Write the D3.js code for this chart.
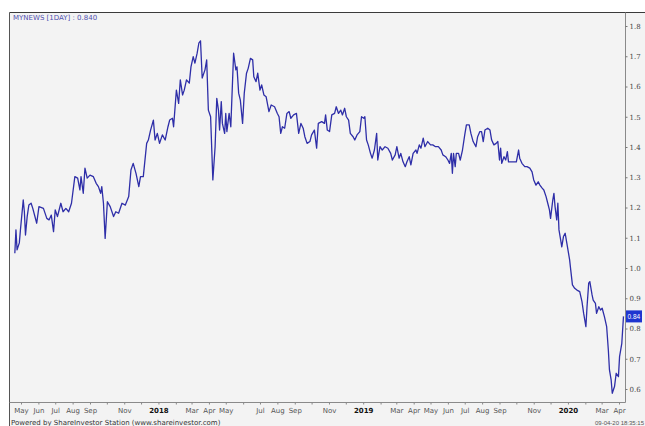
<!DOCTYPE html>
<html>
<head>
<meta charset="utf-8">
<script src="https://cdn.jsdelivr.net/npm/d3@7"></script>
<style>
  html, body { margin: 0; padding: 0; background: #ffffff; }
  svg { display: block; }
  text { font-family: "Liberation Sans", Arial, sans-serif; }
</style>
</head>
<body>
<svg id="chart" width="645" height="426"></svg>
<script>
// ---- data ----
const title = "MYNEWS [1DAY] : 0.840";
const lastValue = 0.84;

const dates = [
  "2017-04-20","2017-04-22","2017-04-24","2017-04-28","2017-04-30","2017-05-05","2017-05-07","2017-05-09","2017-05-12","2017-05-15","2017-05-19","2017-05-22","2017-05-29",
  "2017-06-02","2017-06-10","2017-06-16","2017-06-20","2017-06-24","2017-06-28","2017-07-01","2017-07-05","2017-07-11","2017-07-15","2017-07-20","2017-07-25","2017-07-30",
  "2017-08-05","2017-08-10","2017-08-14","2017-08-16","2017-08-20","2017-08-23","2017-08-27","2017-09-01","2017-09-07","2017-09-12","2017-09-16","2017-09-20","2017-09-22","2017-09-25","2017-09-28",
  "2017-10-02","2017-10-07","2017-10-13","2017-10-17","2017-10-22","2017-10-28","2017-11-03","2017-11-09","2017-11-13","2017-11-17","2017-11-22","2017-11-27","2017-11-30",
  "2017-12-05","2017-12-11","2017-12-14","2017-12-18","2017-12-23","2017-12-26","2017-12-30",
  "2018-01-03","2018-01-08","2018-01-13","2018-01-18","2018-01-21","2018-01-26","2018-01-28",
  "2018-02-02","2018-02-06","2018-02-09","2018-02-13","2018-02-16","2018-02-20","2018-02-25","2018-02-28",
  "2018-03-04","2018-03-07","2018-03-11","2018-03-14","2018-03-17","2018-03-20","2018-03-25","2018-03-28","2018-03-31",
  "2018-04-04","2018-04-08","2018-04-12","2018-04-15","2018-04-18","2018-04-20","2018-04-23","2018-04-25","2018-04-29",
  "2018-05-01","2018-05-03","2018-05-07","2018-05-10","2018-05-15","2018-05-19","2018-05-21","2018-05-24","2018-05-27","2018-05-31",
  "2018-06-03","2018-06-07","2018-06-10","2018-06-14","2018-06-18","2018-06-20","2018-06-24","2018-06-27",
  "2018-07-01","2018-07-04","2018-07-08","2018-07-12","2018-07-17","2018-07-21","2018-07-27",
  "2018-08-01","2018-08-04","2018-08-07","2018-08-10","2018-08-14","2018-08-18","2018-08-22","2018-08-25","2018-08-30",
  "2018-09-04","2018-09-08","2018-09-12","2018-09-16","2018-09-19","2018-09-23","2018-09-28",
  "2018-10-01","2018-10-06","2018-10-10","2018-10-13","2018-10-19","2018-10-24","2018-10-26","2018-10-29",
  "2018-11-02","2018-11-06","2018-11-11","2018-11-14","2018-11-18","2018-11-22","2018-11-25","2018-11-29",
  "2018-12-02","2018-12-06","2018-12-09","2018-12-14","2018-12-17","2018-12-21","2018-12-26","2018-12-29",
  "2019-01-02","2019-01-04","2019-01-07","2019-01-10","2019-01-14","2019-01-17","2019-01-21","2019-01-25","2019-01-27","2019-01-31",
  "2019-02-04","2019-02-09","2019-02-14","2019-02-19","2019-02-22","2019-02-27",
  "2019-03-02","2019-03-06","2019-03-09","2019-03-13","2019-03-17","2019-03-20","2019-03-24","2019-03-27","2019-03-31",
  "2019-04-05","2019-04-07","2019-04-11","2019-04-14","2019-04-18","2019-04-21","2019-04-26",
  "2019-05-01","2019-05-05","2019-05-10","2019-05-15","2019-05-20","2019-05-23","2019-05-28",
  "2019-06-01","2019-06-04","2019-06-07","2019-06-09","2019-06-11","2019-06-14","2019-06-16","2019-06-20","2019-06-23","2019-06-27",
  "2019-07-01","2019-07-04","2019-07-09","2019-07-12","2019-07-16","2019-07-21","2019-07-24","2019-07-28","2019-07-31",
  "2019-08-03","2019-08-06","2019-08-11","2019-08-15","2019-08-18","2019-08-22","2019-08-26","2019-08-29",
  "2019-09-01","2019-09-03","2019-09-05","2019-09-09","2019-09-12","2019-09-15","2019-09-17","2019-09-22","2019-09-27",
  "2019-10-01","2019-10-05","2019-10-07","2019-10-11","2019-10-16","2019-10-20","2019-10-25","2019-10-29",
  "2019-11-01","2019-11-05","2019-11-09","2019-11-12","2019-11-16","2019-11-19","2019-11-23","2019-11-26","2019-11-29",
  "2019-12-01","2019-12-05","2019-12-07","2019-12-09","2019-12-12","2019-12-14","2019-12-16","2019-12-19","2019-12-21","2019-12-24","2019-12-27","2019-12-30",
  "2020-01-02","2020-01-04","2020-01-06","2020-01-09","2020-01-13","2020-01-17","2020-01-22","2020-01-26","2020-01-29",
  "2020-02-02","2020-02-04","2020-02-07","2020-02-09","2020-02-13","2020-02-15","2020-02-19","2020-02-21","2020-02-25","2020-02-28",
  "2020-03-02","2020-03-06","2020-03-10","2020-03-13","2020-03-15","2020-03-18","2020-03-20","2020-03-24","2020-03-27","2020-03-31",
  "2020-04-02","2020-04-06","2020-04-09"
];

const prices = [
  1.049,1.126,1.060,1.083,1.126,1.225,1.186,1.109,1.170,1.208,1.214,1.197,1.148,
  1.203,1.197,1.164,1.159,1.175,1.120,1.192,1.170,1.214,1.186,1.197,1.186,1.214,
  1.302,1.297,1.258,1.302,1.247,1.330,1.297,1.307,1.302,1.280,1.269,1.247,1.269,1.214,1.098,
  1.219,1.203,1.170,1.186,1.181,1.214,1.208,1.236,1.324,1.346,1.313,1.269,1.302,
  1.302,1.412,1.423,1.456,1.489,1.423,1.445,
  1.412,1.440,1.423,1.467,1.489,1.495,1.467,
  1.588,1.544,1.622,1.572,1.588,1.622,1.611,1.665,
  1.699,1.677,1.710,1.743,1.751,1.628,1.655,1.688,1.522,
  1.500,1.291,1.401,1.561,1.522,1.456,1.550,1.478,1.445,
  1.511,1.451,1.511,1.467,1.710,1.655,1.665,1.578,1.555,1.478,
  1.578,1.644,1.660,1.693,1.688,1.632,1.616,1.644,
  1.588,1.605,1.572,1.566,1.517,1.539,1.533,
  1.511,1.500,1.445,1.467,1.462,1.511,1.517,1.495,1.506,
  1.511,1.445,1.478,1.462,1.434,1.412,1.418,
  1.440,1.456,1.396,1.478,1.484,1.478,1.506,1.456,
  1.451,1.506,1.511,1.533,1.511,1.522,1.506,1.528,
  1.500,1.489,1.445,1.434,1.423,1.440,1.451,1.500,
  1.495,1.500,1.423,1.407,1.379,1.363,1.390,1.445,1.357,1.401,
  1.390,1.401,1.396,1.379,1.357,1.374,
  1.401,1.363,1.379,1.351,1.335,1.351,1.368,1.341,1.379,
  1.390,1.379,1.407,1.396,1.429,1.401,1.418,
  1.407,1.407,1.401,1.401,1.390,1.374,1.368,
  1.357,1.346,1.379,1.313,1.379,1.335,1.379,1.379,1.357,1.390,
  1.440,1.473,1.473,1.445,1.418,1.401,1.434,1.451,1.451,
  1.418,1.456,1.462,1.456,1.423,1.407,1.412,1.418,
  1.357,1.396,1.346,1.368,1.357,1.385,1.351,1.351,1.351,
  1.351,1.390,1.363,1.346,1.335,1.335,1.330,1.318,
  1.291,1.274,1.285,1.274,1.264,1.258,1.236,1.214,1.192,
  1.164,1.225,1.247,1.203,1.159,1.214,1.126,1.093,1.070,1.104,1.115,1.082,
  1.049,1.027,0.993,0.944,0.933,0.927,0.922,0.889,0.850,
  0.806,0.872,0.950,0.955,0.911,0.894,0.883,0.850,0.872,0.861,
  0.867,0.839,0.806,0.729,0.663,0.630,0.586,0.608,0.652,0.641,
  0.707,0.751,0.840
];

const yTicks = [0.6,0.7,0.8,0.9,1.0,1.1,1.2,1.3,1.4,1.5,1.6,1.7,1.8];

const monthLabelDates = [
  "2017-05-01","2017-06-01","2017-07-01","2017-08-01","2017-09-01","2017-11-01",
  "2018-01-01","2018-03-01","2018-04-01","2018-05-01","2018-07-01","2018-08-01","2018-09-01","2018-11-01",
  "2019-01-01","2019-03-01","2019-04-01","2019-05-01","2019-06-01","2019-07-01","2019-08-01","2019-09-01","2019-11-01",
  "2020-01-01","2020-03-01","2020-04-01"
];
const monthLabels = [
  "May","Jun","Jul","Aug","Sep","Nov",
  "2018","Mar","Apr","May","Jul","Aug","Sep","Nov",
  "2019","Mar","Apr","May","Jun","Jul","Aug","Sep","Nov",
  "2020","Mar","Apr"
];

const footerLeft = "Powered by ShareInvestor Station (www.shareinvestor.com)";
const footerRight = "09-04-20 18:35:15";

// ---- drawing ----
const parse = d3.timeParse("%Y-%m-%d");
const n = Math.min(dates.length, prices.length);
const data = d3.range(n).map(i => ({ date: parse(dates[i]), value: prices[i] }));

const svg = d3.select("#chart");
const W = 645, H = 426;
const plotL = 9.5, plotT = 12.5, plotR = 625.5, plotB = 402.5;

// backgrounds
svg.append("rect").attr("x", 0).attr("y", 0).attr("width", W).attr("height", H).attr("fill", "#ffffff");
svg.append("rect").attr("x", plotL).attr("y", plotT).attr("width", W - plotL).attr("height", H - plotT).attr("fill", "#f3f3f3");

const x = d3.scaleTime()
  .domain([parse("2017-05-01"), parse("2020-04-01")])
  .range([21, 619]);
const y = d3.scaleLinear()
  .domain([0.6, 1.8])
  .range([389, 26]);

// clip
svg.append("clipPath").attr("id", "plotclip")
  .append("rect").attr("x", plotL).attr("y", plotT).attr("width", plotR - plotL).attr("height", plotB - plotT);

// line
const line = d3.line().x(d => x(d.date)).y(d => y(d.value));
svg.append("path")
  .datum(data)
  .attr("clip-path", "url(#plotclip)")
  .attr("fill", "none")
  .attr("stroke", "#2e2ea8")
  .attr("stroke-width", 1.3)
  .attr("stroke-linejoin", "round")
  .attr("d", line);

// frame lines
svg.append("line").attr("x1", plotL).attr("x2", W).attr("y1", plotT).attr("y2", plotT)
  .attr("stroke", "#3a3a3a").attr("stroke-width", 1);
svg.append("line").attr("x1", plotL).attr("x2", plotL).attr("y1", plotT).attr("y2", H)
  .attr("stroke", "#555").attr("stroke-width", 1);
svg.append("line").attr("x1", plotR).attr("x2", plotR).attr("y1", plotT).attr("y2", plotB)
  .attr("stroke", "#8a8a8a").attr("stroke-width", 1);
svg.append("line").attr("x1", plotL).attr("x2", plotR).attr("y1", plotB).attr("y2", plotB)
  .attr("stroke", "#8a8a8a").attr("stroke-width", 1);

// right y axis
const yAxis = d3.axisRight(y).tickValues(yTicks).tickSize(2).tickPadding(2)
  .tickFormat(d3.format(".1f"));
const gy = svg.append("g").attr("transform", `translate(${plotR},0)`).call(yAxis);
gy.select(".domain").remove();
gy.selectAll(".tick line").attr("stroke", "#777");
gy.selectAll(".tick text").attr("fill", "#444").style("font-size", "7px")
  .style("font-family", "'DejaVu Serif', serif");

// last value badge
const lvY = y(lastValue);
svg.append("rect").attr("x", plotR + 0.5).attr("y", lvY - 6).attr("width", 16).attr("height", 12)
  .attr("fill", "#1f35d0");
svg.append("text").attr("x", plotR + 2).attr("y", lvY + 2.5)
  .attr("fill", "#ffffff").style("font-size", "6.5px").style("font-family", "'Liberation Sans', sans-serif")
  .text(d3.format(".2f")(lastValue));

// bottom x axis
const allMonths = d3.timeMonth.range(parse("2017-05-01"), parse("2020-04-02"));
const gxTicks = svg.append("g").attr("transform", `translate(0,${plotB})`)
  .call(d3.axisBottom(x).tickValues(allMonths).tickSize(2).tickFormat(""));
gxTicks.select(".domain").remove();
gxTicks.selectAll(".tick line").attr("stroke", "#888");

const labelDates = monthLabelDates.map(parse);
const gx = svg.append("g").attr("transform", `translate(0,${plotB})`)
  .call(d3.axisBottom(x).tickValues(labelDates).tickSize(0).tickPadding(6)
    .tickFormat((d, i) => monthLabels[i]));
gx.select(".domain").remove();
gx.selectAll(".tick text")
  .attr("fill", (d, i) => /^\d{4}$/.test(monthLabels[i]) ? "#111" : "#555")
  .style("font-weight", (d, i) => /^\d{4}$/.test(monthLabels[i]) ? "bold" : "normal")
  .style("font-size", "7px")
  .style("font-family", "'DejaVu Sans', sans-serif");

// title
svg.append("text").attr("x", 13).attr("y", 20)
  .attr("fill", "#5050b0").style("font-size", "7px")
  .style("font-family", "'DejaVu Sans', sans-serif")
  .text(title);

// footers
svg.append("text").attr("x", 11).attr("y", 425)
  .attr("fill", "#333").style("font-size", "7px")
  .style("font-family", "'DejaVu Sans', sans-serif")
  .text(footerLeft);
svg.append("text").attr("x", 644).attr("y", 425)
  .attr("text-anchor", "end")
  .attr("fill", "#555").style("font-size", "6px")
  .style("font-family", "'Liberation Sans', sans-serif")
  .text(footerRight);
</script>
</body>
</html>
